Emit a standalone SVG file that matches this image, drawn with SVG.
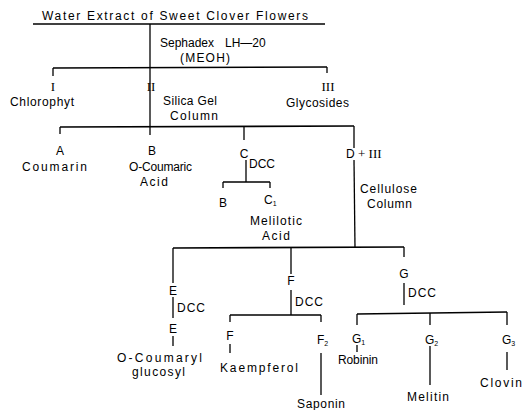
<svg xmlns="http://www.w3.org/2000/svg" width="523" height="410" viewBox="0 0 523 410">
<style>
text{font-family:"Liberation Sans","DejaVu Sans",sans-serif;font-size:12px;fill:#000}
.m{text-anchor:middle}
.r{font-family:"Liberation Serif",serif;font-size:13px}
.s{font-size:7px}
#connectors line{stroke:#000;stroke-width:1.3;fill:none}
#connectors .h{stroke-width:1.6}
</style>
<rect width="523" height="410" fill="#fff"/>
<g id="connectors">
<line class="h" x1="33" y1="24" x2="325" y2="24"/>
<line x1="150" y1="24" x2="150" y2="135"/>
<line class="h" x1="53" y1="68" x2="327" y2="67"/>
<line x1="53" y1="68" x2="53" y2="76"/>
<line x1="327" y1="67" x2="327" y2="73"/>
<line class="h" x1="60" y1="127" x2="354" y2="126"/>
<line x1="60" y1="127" x2="60" y2="134"/>
<line x1="244" y1="127" x2="244" y2="140"/>
<line x1="354" y1="126" x2="354" y2="148"/>
<line x1="354" y1="160" x2="355" y2="248"/>
<line x1="246" y1="160" x2="246" y2="182"/>
<line x1="223" y1="182" x2="270" y2="182"/>
<line x1="223" y1="182" x2="223" y2="188"/>
<line x1="270" y1="182" x2="270" y2="188"/>
<line class="h" x1="173" y1="248" x2="404" y2="247"/>
<line x1="173" y1="248" x2="173" y2="283"/>
<line x1="173" y1="297" x2="173" y2="318"/>
<line x1="173" y1="336" x2="173" y2="346"/>
<line x1="291" y1="248" x2="291" y2="274"/>
<line x1="291" y1="290" x2="291" y2="315"/>
<line x1="230" y1="315" x2="321" y2="315"/>
<line x1="230" y1="315" x2="230" y2="322"/>
<line x1="321" y1="315" x2="321" y2="322"/>
<line x1="230" y1="344" x2="230" y2="353"/>
<line x1="321" y1="353" x2="321" y2="395"/>
<line x1="404" y1="247" x2="404" y2="257"/>
<line x1="404" y1="283" x2="404" y2="305"/>
<line x1="357" y1="314" x2="507" y2="312"/>
<line x1="357" y1="314" x2="357" y2="325"/>
<line x1="430" y1="313" x2="430" y2="325"/>
<line x1="507" y1="312" x2="507" y2="325"/>
<line x1="357" y1="345" x2="357" y2="352"/>
<line x1="430" y1="346" x2="430" y2="385"/>
<line x1="507" y1="352" x2="507" y2="370"/>
</g>
<g id="extract"><text x="42" y="20" textLength="266" font-size="13">Water Extract of Sweet Clover Flowers</text></g>
<g id="sephadex"><text x="160" y="47">Sephadex<tspan x="225">LH—20</tspan></text><text x="180" y="62" textLength="50">(MEOH)</text></g>
<g id="fracI"><text class="m r" x="53" y="91">I</text><text x="10" y="106" textLength="64">Chlorophyt</text></g>
<g id="fracII"><text class="m r" x="151" y="91">II</text><text x="163" y="105" textLength="54">Silica Gel</text><text x="170" y="120" textLength="48">Column</text></g>
<g id="fracIII"><text class="m r" x="328" y="91">III</text><text x="286" y="107" textLength="63">Glycosides</text></g>
<g id="A"><text class="m" x="60" y="155">A</text><text x="22" y="171" textLength="65">Coumarin</text></g>
<g id="B"><text class="m" x="152" y="155">B</text><text x="129" y="171" textLength="63">O-Coumaric</text><text x="140" y="186" textLength="28">Acid</text></g>
<g id="C"><text class="m" x="244" y="158">C</text><text x="249" y="168" textLength="26">DCC</text></g>
<g id="B2"><text class="m" x="223" y="207">B</text></g>
<g id="C1"><text x="264" y="204">C<tspan class="s" dy="2">1</tspan></text><text x="250" y="225" textLength="52">Melilotic</text><text x="262" y="240" textLength="28">Acid</text></g>
<g id="DIII"><text x="346" y="158">D <tspan class="r">+ III</tspan></text><text x="360" y="193" textLength="57">Cellulose</text><text x="367" y="208" textLength="45">Column</text></g>
<g id="E"><text class="m" x="173" y="295">E</text><text x="177" y="312" textLength="28">DCC</text><text class="m" x="173" y="333">E</text><text x="117" y="362" textLength="85">O-Coumaryl</text><text x="132" y="376" textLength="53">glucosyl</text></g>
<g id="F"><text class="m" x="291" y="285">F</text><text x="295" y="306" textLength="28">DCC</text></g>
<g id="F1"><text class="m" x="230" y="340">F</text><text x="220" y="372" textLength="78">Kaempferol</text></g>
<g id="F2"><text x="317" y="344">F<tspan class="s" dy="2">2</tspan></text><text x="297" y="408" textLength="48">Saponin</text></g>
<g id="G"><text class="m" x="404" y="278">G</text><text x="408" y="297" textLength="28">DCC</text></g>
<g id="G1"><text x="352" y="343">G<tspan class="s" dy="2">1</tspan></text><text x="338" y="364" textLength="40">Robinin</text></g>
<g id="G2"><text x="425" y="344">G<tspan class="s" dy="2">2</tspan></text><text x="407" y="401" textLength="42">Melitin</text></g>
<g id="G3"><text x="502" y="344">G<tspan class="s" dy="2">3</tspan></text><text x="480" y="387" textLength="42">Clovin</text></g>
</svg>
